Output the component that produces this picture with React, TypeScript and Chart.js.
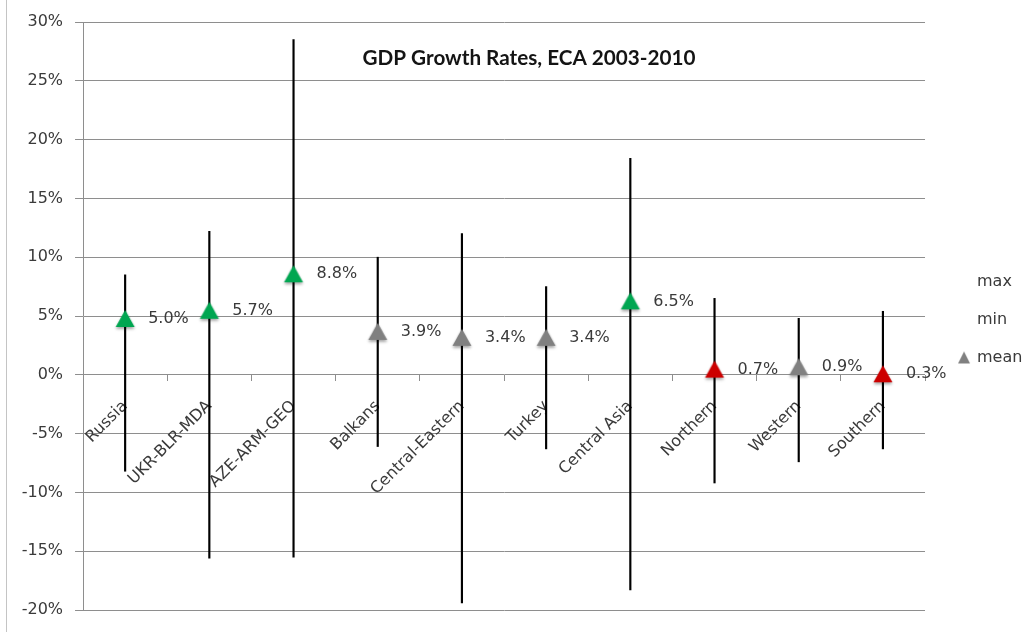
import React, { useEffect, useRef } from 'react';
import { Chart, registerables } from 'chart.js';

Chart.register(...registerables);

// ---- data ----
const categories = [
  'Russia',
  'UKR-BLR-MDA',
  'AZE-ARM-GEO',
  'Balkans',
  'Central-Eastern',
  'Turkey',
  'Central Asia',
  'Northern',
  'Western',
  'Southern',
];
const maxValues = [8.5, 12.2, 28.5, 10.0, 12.0, 7.5, 18.4, 6.5, 4.8, 5.4];
const minValues = [-8.2, -15.6, -15.5, -6.1, -19.4, -6.3, -18.3, -9.2, -7.4, -6.3];
const meanValues = [5.0, 5.7, 8.8, 3.9, 3.4, 3.4, 6.5, 0.7, 0.9, 0.3];
const legendLabels = ['max', 'min', 'mean'];
const yMin = -20;
const yMax = 30;
const yStep = 5;
const chartTitle = 'GDP Growth Rates, ECA 2003-2010';

// ---- styles ----
const GREEN = '#00A651';
const GRAY = '#808080';
const RED = '#CC0000';
const meanColors = [GREEN, GREEN, GREEN, GRAY, GRAY, GRAY, GREEN, RED, GRAY, RED];
const GRID = '#8e8e8e';
const TEXT = '#3a3a3a';
const FONT = 'DejaVu Sans';

function makeTriangle(color: string, w: number, h: number, cw: number, ch: number, dx: number, dy: number, shadow: boolean) {
  const c = document.createElement('canvas');
  c.width = cw;
  c.height = ch;
  const g = c.getContext('2d')!;
  if (shadow) {
    g.shadowColor = 'rgba(0,0,0,0.35)';
    g.shadowBlur = 3;
    g.shadowOffsetX = 0;
    g.shadowOffsetY = 2;
  }
  const cx = cw / 2 + dx;
  const cy = ch / 2 + dy;
  g.beginPath();
  g.moveTo(cx, cy - h / 2);
  g.lineTo(cx + w / 2, cy + h / 2);
  g.lineTo(cx - w / 2, cy + h / 2);
  g.closePath();
  g.fillStyle = color;
  g.fill();
  return c;
}

export default function App() {
  const ref = useRef<HTMLCanvasElement>(null);

  useEffect(() => {
    const canvas = ref.current;
    if (!canvas) return;

    const markerCache: Record<string, HTMLCanvasElement> = {};
    const marker = (color: string) => {
      if (!markerCache[color]) markerCache[color] = makeTriangle(color, 19, 17, 30, 32, 0, 2.5, true);
      return markerCache[color];
    };
    const pointStyles = meanColors.map((c) => marker(c));
    const legendTriangle = makeTriangle(GRAY, 12, 12, 30, 20, 6, 0, false);
    const blank = document.createElement('canvas');
    blank.width = 1;
    blank.height = 1;

    const MEAN_INDEX = 0;

    const meanLabelPlugin = {
      id: 'meanLabels',
      afterDatasetsDraw(chart: any) {
        const meta = chart.getDatasetMeta(MEAN_INDEX);
        const ctx = chart.ctx;
        ctx.save();
        ctx.font = `16px "${FONT}"`;
        ctx.fillStyle = TEXT;
        ctx.textAlign = 'left';
        ctx.textBaseline = 'middle';
        meta.data.forEach((el: any, i: number) => {
          ctx.fillText(meanValues[i].toFixed(1) + '%', el.x + 23, el.y + 3);
        });
        ctx.restore();
      },
    };

    const titlePlugin = {
      id: 'innerTitle',
      afterDraw(chart: any) {
        const { ctx, chartArea } = chart;
        ctx.save();
        ctx.font = 'bold 20.7px Lato';
        ctx.fillStyle = '#141414';
        ctx.textAlign = 'center';
        ctx.textBaseline = 'alphabetic';
        ctx.fillText(chartTitle, (chartArea.left + chartArea.right) / 2 + 25, chartArea.top + 43);
        ctx.restore();
      },
    };

    const chart = new Chart(canvas, {
      type: 'bar',
      data: {
        labels: categories,
        datasets: [
          {
            type: 'line',
            label: 'mean',
            data: meanValues,
            showLine: false,
            pointStyle: pointStyles as any,
            pointRadius: 10,
            pointHoverRadius: 10,
            backgroundColor: meanColors,
            borderColor: meanColors,
            order: 0,
          } as any,
          {
            type: 'bar',
            label: 'range',
            data: categories.map((_, i) => [minValues[i], maxValues[i]]),
            backgroundColor: '#000000',
            borderWidth: 0,
            barThickness: 1.5,
            order: 1,
          } as any,
        ],
      },
      options: {
        animation: false,
        responsive: true,
        maintainAspectRatio: false,
        events: [],
        layout: {
          padding: { left: 9.7, right: -6.4, top: 22, bottom: 22 },
        },
        plugins: {
          tooltip: { enabled: false },
          title: { display: false },
          legend: {
            display: true,
            position: 'right',
            title: { display: true, text: ' ', font: { size: 5 }, padding: 0.5 },
            labels: {
              usePointStyle: true,
              pointStyleWidth: 22,
              padding: 22,
              color: TEXT,
              font: { family: FONT, size: 16 },
              generateLabels: () =>
                legendLabels.map((t, i) => ({
                  text: t,
                  fillStyle: i === 2 ? GRAY : 'rgba(0,0,0,0)',
                  strokeStyle: 'rgba(0,0,0,0)',
                  lineWidth: 0,
                  pointStyle: i === 2 ? legendTriangle : blank,
                  hidden: false,
                  datasetIndex: i === 2 ? MEAN_INDEX : undefined,
                  fontColor: TEXT,
                })) as any,
            },
          },
        },
        scales: {
          x: {
            type: 'category',
            position: { y: 0 } as any,
            offset: true,
            afterFit: (scale: any) => {
              scale.paddingLeft = 0;
              scale.paddingRight = 0;
            },
            grid: {
              display: true,
              drawOnChartArea: false,
              drawTicks: true,
              tickLength: 6,
              offset: true,
              color: GRID,
            },
            border: { display: false },
            ticks: {
              autoSkip: false,
              minRotation: 45,
              maxRotation: 45,
              padding: 16,
              color: TEXT,
              font: { family: FONT, size: 16 },
            },
          },
          y: {
            type: 'linear',
            min: yMin,
            max: yMax,
            grid: { color: GRID, tickLength: 8, lineWidth: 1 },
            border: { display: true, color: GRID },
            ticks: {
              stepSize: yStep,
              padding: 12,
              color: TEXT,
              font: { family: FONT, size: 16 },
              callback: (v: any) => `${v}%`,
            },
          },
        },
      },
      plugins: [meanLabelPlugin, titlePlugin],
    });

    return () => chart.destroy();
  }, []);

  return (
    <div
      style={{
        position: 'fixed',
        left: 0,
        top: 0,
        width: 1026,
        height: 632,
        background: '#ffffff',
      }}
    >
      <div
        style={{
          position: 'absolute',
          left: 6,
          top: 0,
          width: 0,
          height: 632,
          borderLeft: '1px solid #c4c4c4',
        }}
      />
      <canvas ref={ref} />
    </div>
  );
}
